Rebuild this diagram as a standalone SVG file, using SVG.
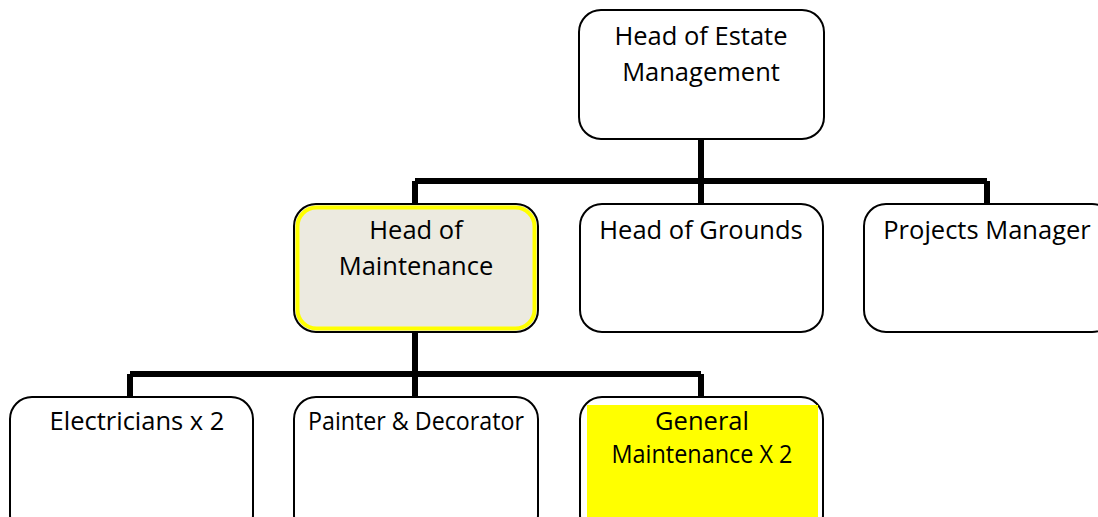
<svg xmlns="http://www.w3.org/2000/svg" width="1098" height="517" viewBox="0 0 1098 517">
<style>
.box{fill:#fff;stroke:#000;stroke-width:2}
.t{font-family:"Open Sans","Liberation Sans",sans-serif;font-size:25.5px;fill:#000;text-anchor:middle}
.c{stroke:#000;stroke-width:6;fill:none}
</style>
<rect width="1098" height="517" fill="#fff"/>
<g id="connectors">
<path class="c" d="M701 139V181M415 181H987M415 181V204M701 181V204M987 181V204"/>
<path class="c" d="M415 332V374M130 374H701M130 374V397M415 374V397M701 374V397"/>
</g>
<g id="head-estate">
<rect class="box" x="579" y="10" width="245" height="129" rx="22"/>
<text class="t" x="701" y="45">Head of Estate</text>
<text class="t" x="701" y="81">Management</text>
</g>
<g id="head-maintenance">
<rect x="294" y="204" width="244" height="128" rx="22" fill="#ECEAE0" stroke="#000" stroke-width="2"/>
<rect x="297.5" y="207.5" width="237" height="121" rx="19" fill="none" stroke="#FFFF00" stroke-width="4"/>
<text class="t" x="416" y="239">Head of</text>
<text class="t" x="416" y="275">Maintenance</text>
</g>
<g id="head-grounds">
<rect class="box" x="580" y="204" width="243" height="128" rx="22"/>
<text class="t" x="701" y="239">Head of Grounds</text>
</g>
<g id="projects-manager">
<rect class="box" x="864" y="204" width="250" height="128" rx="22"/>
<text class="t" x="987" y="239">Projects Manager</text>
</g>
<g id="electricians">
<rect class="box" x="10" y="397" width="243" height="140" rx="22"/>
<text class="t" x="137" y="430">Electricians x 2</text>
</g>
<g id="painter">
<rect class="box" x="294" y="397" width="244" height="140" rx="22"/>
<text class="t" x="416" y="430" textLength="216" lengthAdjust="spacingAndGlyphs">Painter &amp; Decorator</text>
</g>
<g id="general-maintenance">
<rect class="box" x="580" y="397" width="243" height="140" rx="22"/>
<rect x="587" y="405" width="231" height="112" fill="#FFFF00"/>
<text class="t" x="702" y="430">General</text>
<text class="t" x="702" y="463" textLength="181" lengthAdjust="spacingAndGlyphs">Maintenance X 2</text>
</g>
</svg>
